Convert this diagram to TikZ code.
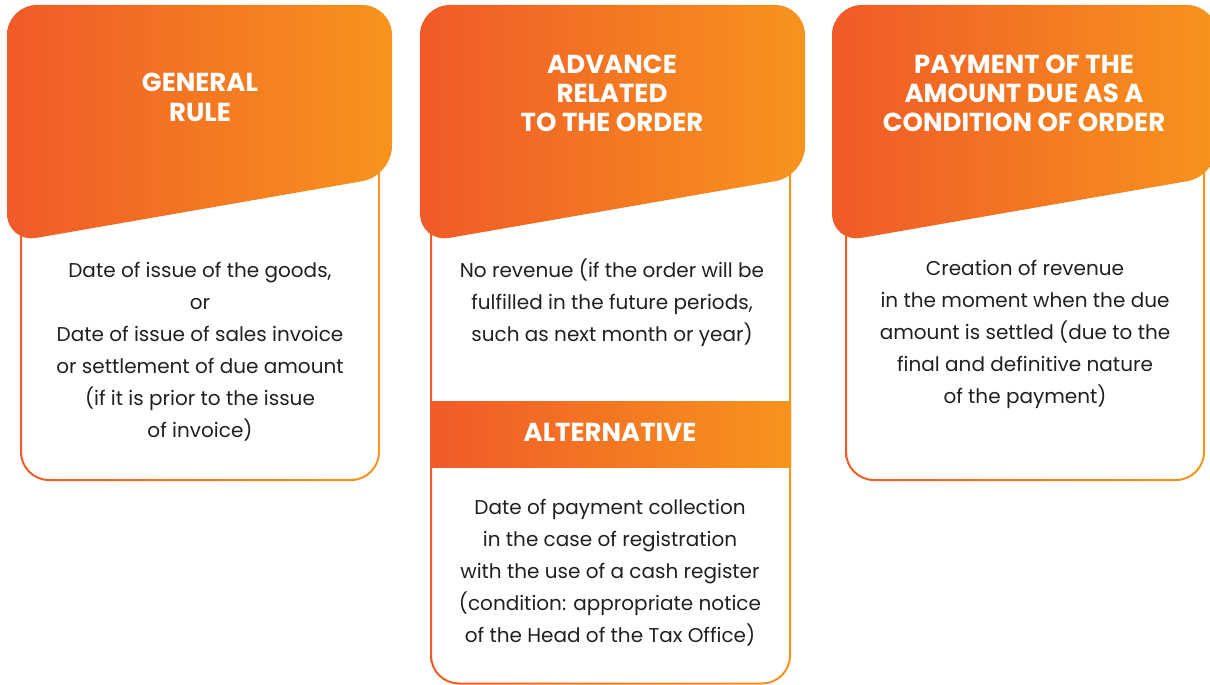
\documentclass[tikz,border=0pt]{standalone}
\usepackage{fontspec}
\setmainfont{Poppins}
\newfontfamily\headfont{Poppins}
\definecolor{orL}{RGB}{240,90,40}
\definecolor{orR}{RGB}{247,148,29}
\definecolor{ink}{RGB}{35,31,32}

% multi-line nodes are placed by the baseline of their last line
\tikzset{
  grad/.style={left color=orL, right color=orR},
  headtext/.style={text=white, font=\headfont\bfseries\fontsize{26}{29}\selectfont,
    align=center, anchor=base, inner sep=0pt},
  bodytext/.style={text=ink, font=\fontsize{20}{32}\selectfont,
    align=center, anchor=base, inner sep=0pt},
}

% gradient outline of a card: left, right, top, bottom (outer edges)
\newcommand\cardframe[4]{%
  \path[grad, even odd rule]
    [rounded corners=29pt] (#1,#3) rectangle (#2,#4)
    [rounded corners=27pt] (#1+2,#3+2) rectangle (#2-2,#4-2);
}
% slanted header of a card, from its left edge
\newcommand\cardhead[1]{%
  \path[grad, rounded corners=30pt]
    (#1+190,5) -- (#1+385,5) -- (#1+385,176) -- (#1,243) -- (#1,5) -- cycle;
}

\begin{document}
\begin{tikzpicture}[x=1pt,y=-1pt]
\useasboundingbox (0,0) rectangle (1210,685);
\clip (0,0) rectangle (1210,685);

% card outlines
\cardframe{20}{380}{120}{481}
\cardframe{430}{791}{120}{684.5}
\cardframe{845}{1205}{120}{481}

% band inside the middle card
\path[grad] (430,401) rectangle (791,467);

% headers
\cardhead{7}
\cardhead{420}
\cardhead{832}

% header titles
\node[headtext] (h1) at (200,121) {GENERAL\\RULE};
\node[headtext] (h2) at (612,131) {ADVANCE\\RELATED\\TO THE ORDER};
\node[headtext] (h3) at (1024,131) {PAYMENT OF THE\\AMOUNT DUE AS A\\CONDITION OF ORDER};
\node[headtext] (alt) at (610,441) {ALTERNATIVE};

% card texts
\node[bodytext] (b1) at (200,437) {Date of issue of the goods,\\or\\Date of issue of sales invoice\\or settlement of due amount\\(if it is prior to the issue\\of invoice)};
\node[bodytext] (b2) at (612,341) {No revenue (if the order will be\\fulfilled in the future periods,\\such as next month or year)};
\node[bodytext] (b4) at (610,642) {Date of payment collection\\in the case of registration\\with the use of a cash register\\(condition: appropriate notice\\of the Head of the Tax Office)};
\node[bodytext] (b3) at (1025,403) {Creation of revenue\\in the moment when the due\\amount is settled (due to the\\final and definitive nature\\of the payment)};
\end{tikzpicture}
\end{document}
